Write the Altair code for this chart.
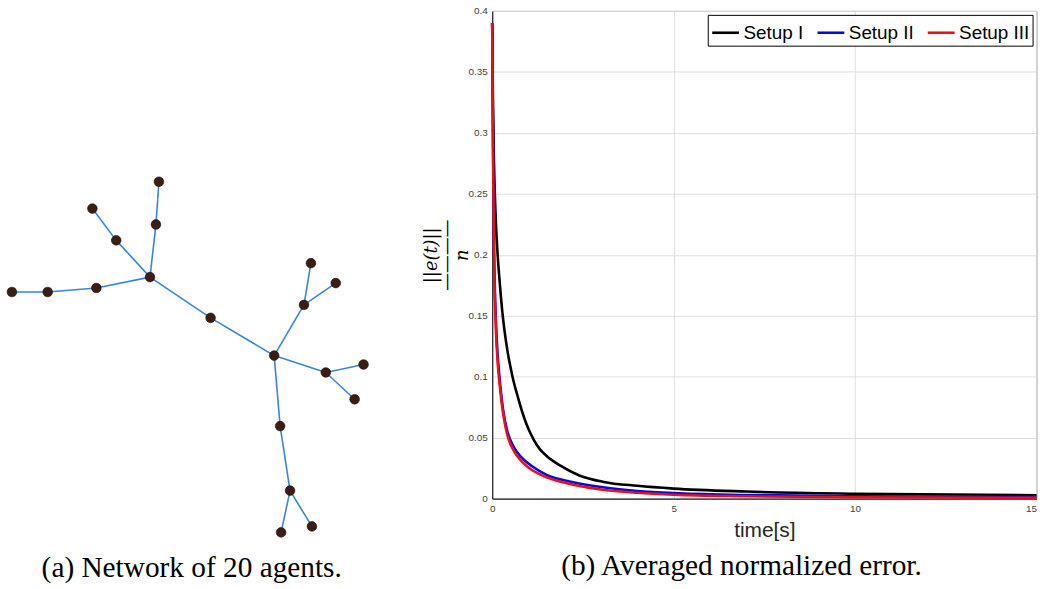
import altair as alt
import pandas as pd

# ---------------- network of 20 agents (layout) ----------------
node_id = list(range(1, 21))
node_x = [159, 156, 92, 116, 150, 11, 47, 96, 211, 275, 312, 337, 305, 327, 365, 356, 281, 291, 282, 313]
node_y = [181, 224, 208, 240, 277, 292, 292, 288, 318, 356, 263, 283, 305, 373, 365, 400, 427, 492, 534, 528]
edge_src = [1, 2, 3, 4, 5, 8, 7, 5, 9, 10, 13, 13, 10, 14, 14, 10, 17, 18, 18]
edge_dst = [2, 5, 4, 5, 8, 7, 6, 9, 10, 13, 11, 12, 14, 15, 16, 17, 18, 19, 20]

# ---------------- averaged normalized error ----------------
setups = ["Setup I", "Setup II", "Setup III"]
colors = ["#000000", "#0a0ad8", "#e8101c"]

t_setup1 = [0, 0.02, 0.05, 0.1, 0.15, 0.2, 0.29, 0.4, 0.56, 0.7, 0.85, 1.0, 1.15, 1.3, 1.5, 1.88, 2.4, 3.07, 4.0, 5.0, 7.0, 10.0, 15.0]
e_setup1 = [0.39, 0.33, 0.275, 0.228, 0.2, 0.18, 0.15, 0.125, 0.1, 0.084, 0.069, 0.057, 0.048, 0.041, 0.035, 0.027, 0.019, 0.0137, 0.0105, 0.0082, 0.0058, 0.004, 0.0028]

t_setup2 = [0, 0.02, 0.05, 0.1, 0.15, 0.2, 0.3, 0.42, 0.6, 0.8, 1.1, 1.5, 2.2, 3.0, 4.0, 5.0, 7.0, 10.0, 15.0]
e_setup2 = [0.39, 0.30, 0.21, 0.148, 0.118, 0.1, 0.073, 0.055, 0.042, 0.034, 0.0265, 0.0195, 0.0137, 0.0095, 0.0063, 0.0045, 0.003, 0.002, 0.0015]

t_setup3 = [0, 0.02, 0.05, 0.1, 0.15, 0.2, 0.3, 0.4, 0.6, 0.8, 1.0, 1.5, 2.0, 3.0, 4.0, 5.0, 7.0, 10.0, 15.0]
e_setup3 = [0.39, 0.29, 0.2, 0.14, 0.112, 0.095, 0.07, 0.054, 0.039, 0.031, 0.0255, 0.0175, 0.013, 0.0075, 0.0048, 0.0032, 0.0019, 0.0011, 0.0007]

x_ticks = [0, 5, 10, 15]
y_ticks = [0, 0.05, 0.1, 0.15, 0.2, 0.25, 0.3, 0.35, 0.4]

# ---------------- tables ----------------
nodes = pd.DataFrame({"id": node_id, "x": node_x, "y": node_y})
pos = {i: (x, y) for i, x, y in zip(node_id, node_x, node_y)}
edges = pd.DataFrame({
    "x1": [pos[s][0] for s in edge_src],
    "y1": [pos[s][1] for s in edge_src],
    "x2": [pos[d][0] for d in edge_dst],
    "y2": [pos[d][1] for d in edge_dst],
})

rows = []
for name, ts, es in zip(setups, [t_setup1, t_setup2, t_setup3], [e_setup1, e_setup2, e_setup3]):
    for k, (t, e) in enumerate(zip(ts, es)):
        rows.append({"series": name, "t": t, "e": e, "k": k})
lines = pd.DataFrame(rows)

# ---------------- left panel ----------------
xs = alt.Scale(domain=[0, 420], nice=False, zero=False)
ys = alt.Scale(domain=[9, 500], nice=False, zero=False, reverse=True)

edge_layer = alt.Chart(edges).mark_rule(color="#3a84dc", strokeWidth=1.6).encode(
    x=alt.X("x1:Q", scale=xs, axis=None),
    y=alt.Y("y1:Q", scale=ys, axis=None),
    x2="x2:Q",
    y2="y2:Q",
)
node_layer = alt.Chart(nodes).mark_circle(
    size=95, color="#3b1d12", opacity=1, stroke="#1c0d07", strokeWidth=0.6
).encode(
    x=alt.X("x:Q", scale=xs, axis=None),
    y=alt.Y("y:Q", scale=ys, axis=None),
)

left = alt.layer(edge_layer, node_layer).properties(
    width=420,
    height=491,
    title=alt.TitleParams(
        "(a) Network of 20 agents.",
        orient="bottom", anchor="middle", frame="group",
        font="Liberation Serif", fontSize=29.5, fontWeight="normal",
        color="#000000", offset=16, dx=-18,
    ),
)

# ---------------- right panel ----------------
right = alt.Chart(lines).mark_line(strokeWidth=2.6, interpolate="monotone").encode(
    x=alt.X(
        "t:Q",
        scale=alt.Scale(domain=[0, 15], nice=False, zero=False),
        axis=alt.Axis(values=x_ticks, title="time[s]", titleFont="Liberation Sans",
                      titleFontSize=21, titleFontWeight="normal", titleColor="#262626",
                      titlePadding=6,
                      labelAlign=alt.ExprRef(expr="datum.value == 15 ? 'right' : 'center'")),
    ),
    y=alt.Y(
        "e:Q",
        scale=alt.Scale(domain=[0, 0.4], nice=False),
        axis=alt.Axis(values=y_ticks, format="~g",
                      title=["||e(t)||", "\u2014\u2014\u2014\u2014", "n"],
                      titleFont="DejaVu Serif", titleFontStyle="italic",
                      titleFontSize=18, titleFontWeight="normal", titleColor="#000000",
                      titleLineHeight=16, titlePadding=-4),
    ),
    color=alt.Color(
        "series:N",
        scale=alt.Scale(domain=setups, range=colors),
        legend=alt.Legend(
            title=None, orient="top-right", direction="horizontal", offset=4,
            symbolType="stroke", symbolSize=729, symbolStrokeWidth=2.6,
            labelFont="Liberation Sans", labelFontSize=19, labelColor="#000000",
            labelOffset=3, columnPadding=8, padding=3,
            strokeColor="#000000", fillColor="#ffffff", labelLimit=300,
        ),
    ),
    order="k:Q",
).properties(
    width=548,
    height=491,
    view=alt.ViewBackground(stroke="#8a8a8a", strokeWidth=1),
    title=alt.TitleParams(
        "(b) Averaged normalized error.",
        orient="bottom", anchor="middle", frame="group",
        font="Liberation Serif", fontSize=29.5, fontWeight="normal",
        color="#000000", offset=12, dx=-23,
    ),
)

chart = alt.hconcat(left, right, spacing=74.5, bounds="flush").resolve_legend(
    color="independent"
).configure(
    padding={"left": 0, "top": 3, "right": 0, "bottom": 0},
    background="#ffffff",
).configure_view(
    stroke="transparent"
).configure_axis(
    domainColor="#262626", domainWidth=1.2,
    gridColor="#dedede", gridWidth=1,
    tickSize=0,
    labelFont="Liberation Sans", labelFontSize=10, labelColor="#404040",
    labelPadding=5,
)

chart.save("out.html", embed_options={"renderer": "svg", "actions": False})
